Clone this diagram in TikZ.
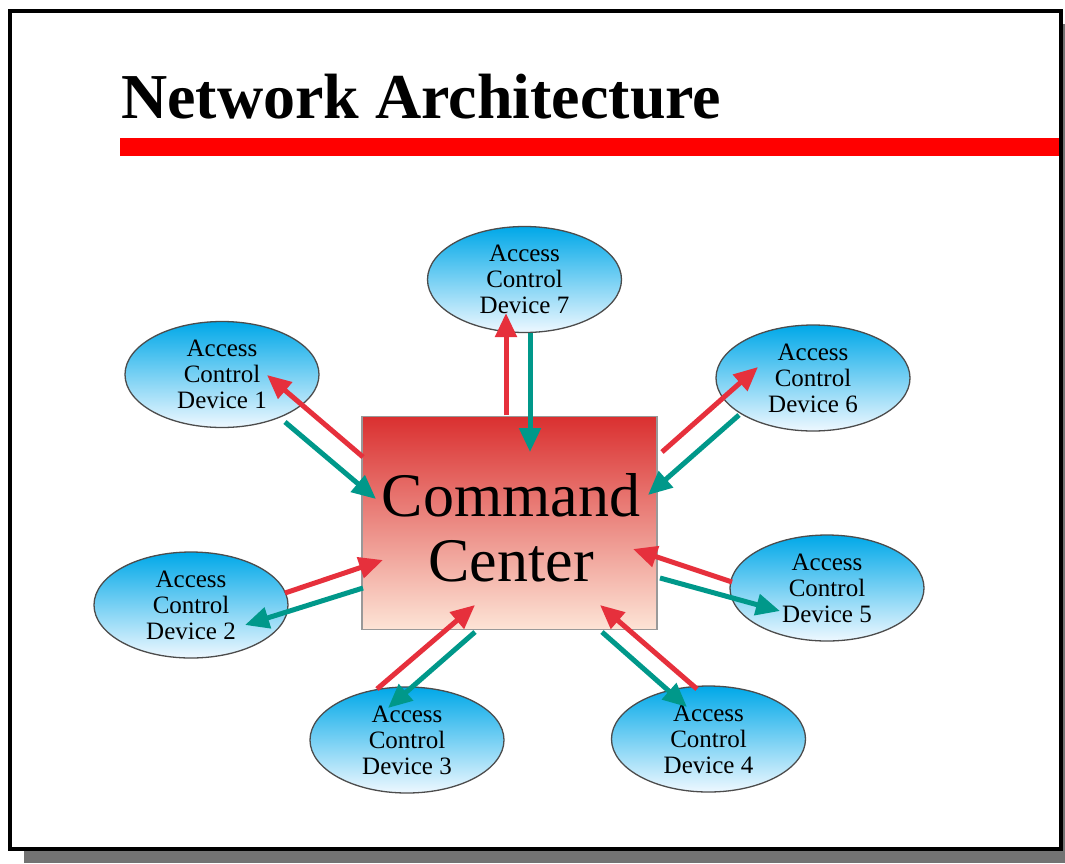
\documentclass[tikz,border=0pt]{standalone}
\usepackage{fontspec}
\setmainfont{Liberation Serif}
\usetikzlibrary{shapes.geometric,arrows.meta,calc}

\definecolor{arrowred}{RGB}{230,48,60}
\definecolor{arrowteal}{RGB}{0,152,138}
\definecolor{barred}{RGB}{255,0,0}
\definecolor{devtop}{RGB}{0,168,232}
\definecolor{devmid}{RGB}{130,205,242}
\definecolor{devbot}{RGB}{238,248,255}
\definecolor{cctop}{RGB}{218,48,48}
\definecolor{ccmid}{RGB}{240,150,122}
\definecolor{ccbot}{RGB}{253,228,214}

\tikzset{
  device/.style={ellipse, draw=black!70, line width=1.3pt,
    top color=devtop, middle color=devmid, bottom color=devbot,
    minimum width=194pt, minimum height=106pt, inner sep=0pt,
    align=center, font=\fontsize{25}{26}\selectfont},
  center box/.style={rectangle, draw=black!40, line width=1.5pt,
    top color=cctop, middle color=ccmid, bottom color=ccbot,
    minimum width=295pt, minimum height=213pt, inner sep=0pt},
  link/.style={line width=5pt,
    -{Triangle[length=24pt,width=21pt]}},
  uplink/.style={link, draw=arrowred, arrowred},
  downlink/.style={link, draw=arrowteal, arrowteal}
}

\begin{document}
\begin{tikzpicture}[x=1pt,y=-1pt]
  \useasboundingbox (0,0) rectangle (1065,863);

  % slide frame with drop shadow
  \fill[black!55] (24,24) rectangle (1080,863);
  \filldraw[fill=white, draw=black, line width=4pt] (10,11) rectangle (1061,849);

  % title and rule
  \node[anchor=base west, inner sep=0pt,
        font=\bfseries\fontsize{64}{70}\selectfont] (title) at (121,118) {Network Architecture};
  \fill[barred] (120,138) rectangle (1059,156);

  % command center
  \node[center box] (cc) at (509.5,523) {};
  \node[align=center, inner sep=0pt,
        font=\fontsize{62}{65}\selectfont] (cclabel) at ($(cc.center)+(1.5,5)$) {Command\\Center};

  % access control devices
  \node[device] (d1) at (222,374.5) {Access\\Control\\Device 1};
  \node[device] (d2) at (191,605)   {Access\\Control\\Device 2};
  \node[device] (d3) at (407,740)   {Access\\Control\\Device 3};
  \node[device] (d4) at (708.5,739) {Access\\Control\\Device 4};
  \node[device] (d5) at (827,588)   {Access\\Control\\Device 5};
  \node[device] (d6) at (813,378)   {Access\\Control\\Device 6};
  \node[device] (d7) at (524.5,279.5) {Access\\Control\\Device 7};

  % end points of the links, relative to the nodes they touch
  \coordinate (u7a) at ($(cc)+(-3.5,-108)$);   \coordinate (u7b) at ($(d7)+(-18.5,33.5)$);
  \coordinate (v7a) at ($(d7)+(5.5,53.5)$);    \coordinate (v7b) at ($(cc)+(20.5,-71)$);
  \coordinate (u1a) at ($(cc)+(-146.5,-66)$);  \coordinate (u1b) at ($(d1)+(45,0.5)$);
  \coordinate (v1a) at ($(d1)+(63,47.5)$);     \coordinate (v1b) at ($(cc)+(-133.5,-24)$);
  \coordinate (u6a) at ($(cc)+(152.5,-71)$);   \coordinate (u6b) at ($(d6)+(-55,-11)$);
  \coordinate (v6a) at ($(d6)+(-74,37)$);      \coordinate (v6b) at ($(cc)+(138.5,-28)$);
  \coordinate (u2a) at ($(d2)+(94,-12)$);      \coordinate (u2b) at ($(cc)+(-126.5,37)$);
  \coordinate (v2a) at ($(cc)+(-146.5,65)$);   \coordinate (v2b) at ($(d2)+(54,20)$);
  \coordinate (u5a) at ($(d5)+(-95,-6)$);      \coordinate (u5b) at ($(cc)+(123.5,26)$);
  \coordinate (v5a) at ($(cc)+(150.5,55)$);    \coordinate (v5b) at ($(d5)+(-47,23)$);
  \coordinate (u3a) at ($(d3)+(-30,-51)$);     \coordinate (u3b) at ($(cc)+(-34.5,82)$);
  \coordinate (v3a) at ($(cc)+(-34.5,109)$);   \coordinate (v3b) at ($(d3)+(-19,-32)$);
  \coordinate (u4a) at ($(d4)+(-11.5,-50)$);   \coordinate (u4b) at ($(cc)+(90.5,82)$);
  \coordinate (v4a) at ($(cc)+(92.5,109)$);    \coordinate (v4b) at ($(d4)+(-21.5,-32)$);

  % red links
  \draw[uplink] (u7a) -- (u7b);
  \draw[uplink] (u1a) -- (u1b);
  \draw[uplink] (u6a) -- (u6b);
  \draw[uplink] (u2a) -- (u2b);
  \draw[uplink] (u5a) -- (u5b);
  \draw[uplink] (u3a) -- (u3b);
  \draw[uplink] (u4a) -- (u4b);

  % teal links
  \draw[downlink] (v7a) -- (v7b);
  \draw[downlink] (v1a) -- (v1b);
  \draw[downlink] (v6a) -- (v6b);
  \draw[downlink] (v2a) -- (v2b);
  \draw[downlink] (v5a) -- (v5b);
  \draw[downlink] (v3a) -- (v3b);
  \draw[downlink] (v4a) -- (v4b);
\end{tikzpicture}
\end{document}
